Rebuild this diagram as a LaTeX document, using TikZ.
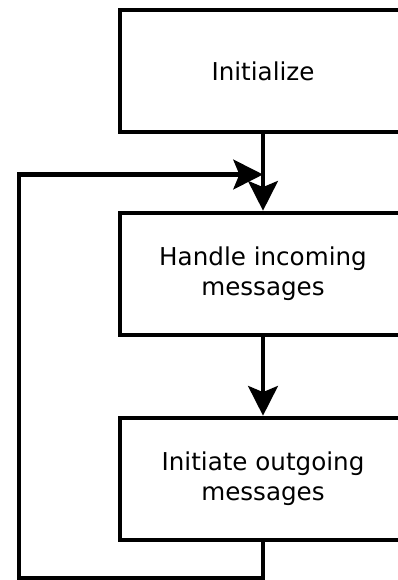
\documentclass[tikz,border=0pt]{standalone}
\usepackage{fontspec}
\setmainfont{DejaVu Sans}
\usepackage{tikz}
\usetikzlibrary{arrows.meta, positioning}

\tikzset{
    stagebox/.style={draw, line width=0.115cm, minimum width=7.15cm, minimum height=3.05cm,
        align=center, font=\fontsize{17.5}{21.3}\selectfont},
    flowline/.style={line width=0.115cm, miter limit=10},
    flowarrow/.style={flowline, -{Stealth[length=0.74cm, width=0.74cm, inset=0.15cm]}}
}

\begin{document}
\begin{tikzpicture}
\useasboundingbox (0,0) rectangle (9.925,-14.5);

% Stages
\node[stagebox] (init) at (6.575,-1.775) {Initialize};
\node[stagebox] (handle) at (6.575,-6.85) {Handle incoming\\messages};
\node[stagebox] (outgo) at (6.575,-11.975) {Initiate outgoing\\messages};

% Loop corners
\coordinate (join) at (6.575,-4.3625);
\coordinate (loopbr) at (6.575,-14.45);
\coordinate (loopbl) at (0.475,-14.45);
\coordinate (looptl) at (0.475,-4.3625);

% Connectors
\draw[flowarrow] (init.south) -- (handle.north);
\draw[flowarrow] (handle.south) -- (outgo.north);
\draw[flowarrow] (outgo.south) -- (loopbr) -- (loopbl) -- (looptl) -- (join);
\end{tikzpicture}
\end{document}
